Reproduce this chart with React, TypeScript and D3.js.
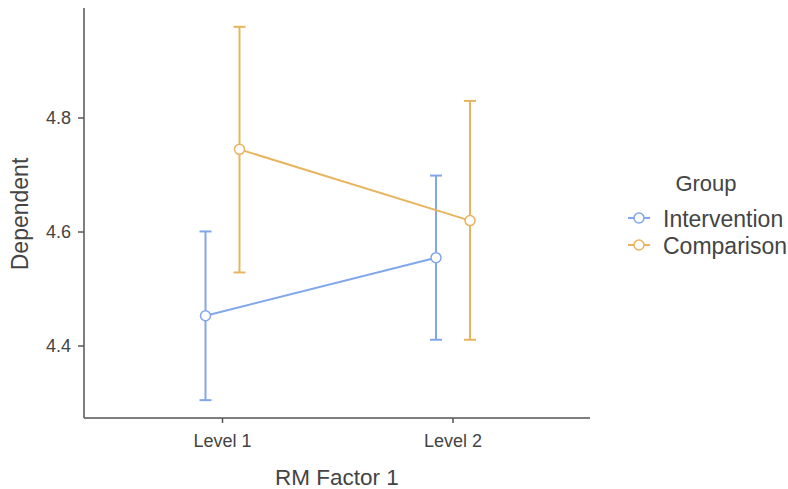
import React from 'react';
import * as d3 from 'd3';

const levels = ['Level 1', 'Level 2'];
const groups = ['Intervention', 'Comparison'];
const colors = ['#80a7ea', '#e8b45e'];
const means = [
  [4.453, 4.555],
  [4.745, 4.62],
];
const lower = [
  [4.305, 4.411],
  [4.529, 4.411],
];
const upper = [
  [4.601, 4.699],
  [4.96, 4.83],
];
const yTicks = [4.4, 4.6, 4.8];

const W = 788;
const H = 489;
const left = 84;
const right = 590;
const top = 8;
const bottom = 418;
const font = '"Liberation Sans", Arial, sans-serif';

export default function App() {
  const y = d3.scaleLinear().domain([4.2737, 4.993]).range([bottom, top]);
  const x = d3.scalePoint().domain(levels).range([222.5, 453]);
  const dodge = d3.scalePoint().domain(groups).range([-17, 17]);
  const line = d3.line<[number, number]>().x((d) => d[0]).y((d) => d[1]);

  return (
    <svg width={W} height={H} style={{ position: 'absolute', left: 0, top: 0 }}>
      {/* axes */}
      <g stroke="#555" strokeWidth={1.5} fill="none">
        <line x1={left} x2={left} y1={top} y2={bottom} />
        <line x1={left} x2={right} y1={bottom} y2={bottom} />
        {yTicks.map((t) => (
          <line key={t} x1={left - 6} x2={left} y1={y(t)} y2={y(t)} />
        ))}
        {levels.map((l) => (
          <line key={l} x1={x(l)} x2={x(l)} y1={bottom} y2={bottom + 5} />
        ))}
      </g>
      <g fontFamily={font} fill="#444">
        {yTicks.map((t) => (
          <text key={t} x={left - 13} y={y(t)} dy="0.35em" textAnchor="end" fontSize={18}>
            {t.toFixed(1)}
          </text>
        ))}
        {levels.map((l) => (
          <text key={l} x={x(l)} y={bottom + 29} textAnchor="middle" fontSize={18}>
            {l}
          </text>
        ))}
        <text x={337} y={485} textAnchor="middle" fontSize={22.5}>
          RM Factor 1
        </text>
        <text
          transform={`translate(28,${214}) rotate(-90)`}
          textAnchor="middle"
          fontSize={23}
        >
          Dependent
        </text>
      </g>

      {/* series */}
      {groups.map((g, gi) => {
        const pts: [number, number][] = levels.map((l, li) => [
          (x(l) as number) + (dodge(g) as number),
          y(means[gi][li]),
        ]);
        return (
          <g key={g} stroke={colors[gi]} strokeWidth={2} fill="none">
            {levels.map((l, li) => {
              const cx = pts[li][0];
              return (
                <g key={l}>
                  <line x1={cx} x2={cx} y1={y(lower[gi][li])} y2={y(upper[gi][li])} />
                  <line x1={cx - 6} x2={cx + 6} y1={y(lower[gi][li])} y2={y(lower[gi][li])} />
                  <line x1={cx - 6} x2={cx + 6} y1={y(upper[gi][li])} y2={y(upper[gi][li])} />
                </g>
              );
            })}
            <path d={line(pts) ?? ''} />
            {pts.map((p, i) => (
              <circle key={i} cx={p[0]} cy={p[1]} r={5} fill="#fff" strokeWidth={1.5} />
            ))}
          </g>
        );
      })}

      {/* legend */}
      <g fontFamily={font} fill="#444">
        <text x={706} y={191} textAnchor="middle" fontSize={22}>
          Group
        </text>
        {groups.map((g, gi) => {
          const ly = 218 + gi * 27;
          return (
            <g key={g}>
              <line x1={628} x2={650} y1={ly} y2={ly} stroke={colors[gi]} strokeWidth={2} />
              <circle cx={639} cy={ly} r={5} fill="#fff" stroke={colors[gi]} strokeWidth={1.5} />
              <text x={663} y={ly + 8.5} fontSize={23}>
                {g}
              </text>
            </g>
          );
        })}
      </g>
    </svg>
  );
}
